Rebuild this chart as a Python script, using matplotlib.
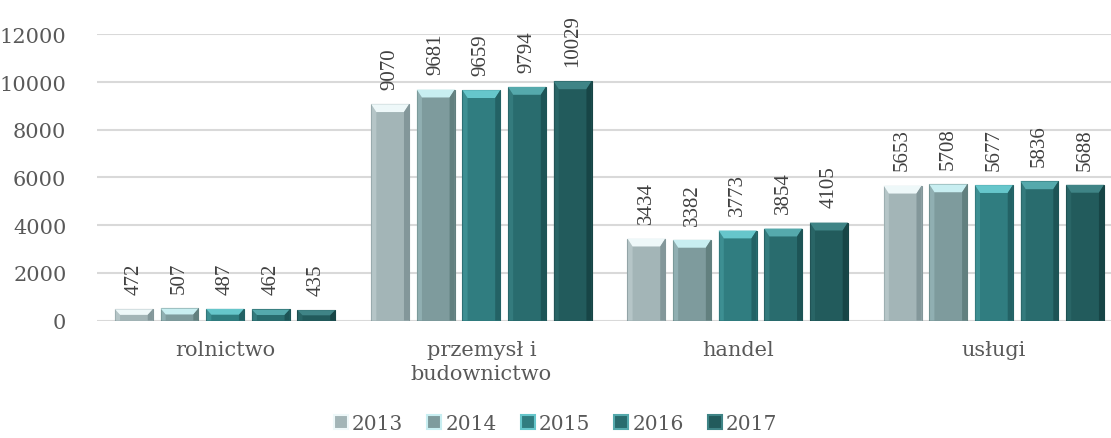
import matplotlib.pyplot as plt
from matplotlib.patches import Polygon, Patch
import numpy as np

# number of employed by sector, 2013-2017
categories = ['rolnictwo', 'przemysł i\nbudownictwo', 'handel', 'usługi']
years = ['2013', '2014', '2015', '2016', '2017']
v2013 = [472, 9070, 3434, 5653]
v2014 = [507, 9681, 3382, 5708]
v2015 = [487, 9659, 3773, 5677]
v2016 = [462, 9794, 3854, 5836]
v2017 = [435, 10029, 4105, 5688]
series = [v2013, v2014, v2015, v2016, v2017]

# base, top bevel, side shade
colors = ['#a3b5b7', '#7e9b9d', '#307d80', '#296c6e', '#225b5c']
light = ['#eef8f9', '#c8eef1', '#66c6cb', '#55a9ac', '#3f8486']
dark = ['#83979a', '#62807f', '#236265', '#1d5456', '#174546']

plt.rcParams['font.family'] = ['DejaVu Serif']
fig = plt.figure(figsize=(11.11, 4.39), dpi=100)
ax = fig.add_axes([97 / 1111, 117.5 / 439, 1025 / 1111, 286.2 / 439])

x = np.arange(len(categories))
w = 0.148
step = 0.178
bx = 0.02       # side bevel, x units
by = 330        # top bevel, y units

for i, vals in enumerate(series):
    bars = ax.bar(x + (i - 2) * step, vals, w, color=colors[i],
                  edgecolor=dark[i], linewidth=0.8, zorder=3)
    for b, v in zip(bars, vals):
        x0, x1 = b.get_x(), b.get_x() + b.get_width()
        h = b.get_height()
        t = min(by, h / 2)
        s = min(bx, b.get_width() / 2)
        # top bevel
        ax.add_patch(Polygon([[x0, h], [x1, h], [x1 - s, h - t], [x0 + s, h - t]],
                             closed=True, facecolor=light[i], edgecolor='none', zorder=4))
        # right side shade
        ax.add_patch(Polygon([[x1, 0], [x1, h], [x1 - s, h - t], [x1 - s, 0]],
                             closed=True, facecolor=dark[i], edgecolor='none', zorder=4))
        # left side, slightly lighter
        ax.add_patch(Polygon([[x0, 0], [x0, h], [x0 + s, h - t], [x0 + s, 0]],
                             closed=True, facecolor=light[i], alpha=0.25, edgecolor='none', zorder=4))
        ax.annotate(str(v), (b.get_x() + b.get_width() / 2, h), xytext=(0, 11),
                    textcoords='offset points', rotation=90, ha='center', va='bottom',
                    fontsize=15, family='Liberation Serif', color='#404040',
                    annotation_clip=False)

ax.set_xlim(-0.5, 3.5)
ax.set_ylim(0, 12000)
ax.set_yticks(range(0, 12001, 2000))
ax.yaxis.grid(True, color='#d9d9d9', linewidth=1.5, zorder=0)
ax.set_axisbelow(True)
for sp in ax.spines.values():
    sp.set_visible(False)
ax.tick_params(axis='y', length=0, pad=22, labelsize=15, labelcolor='#595959')
ax.set_xticks(x)
ax.set_xticklabels(categories, linespacing=1.35)
ax.tick_params(axis='x', length=0, pad=14, labelsize=15, labelcolor='#595959')

handles = [Patch(facecolor=colors[i], edgecolor=light[i], linewidth=1.5, label=years[i])
           for i in range(len(years))]
fig.legend(handles=handles, loc='lower center', bbox_to_anchor=(0.5, -0.03), ncol=5,
           frameon=False, fontsize=14.5, handlelength=0.7, handleheight=0.7,
           handletextpad=0.2, columnspacing=1.2, labelcolor='#595959')

fig.savefig('out.png', dpi=100)
